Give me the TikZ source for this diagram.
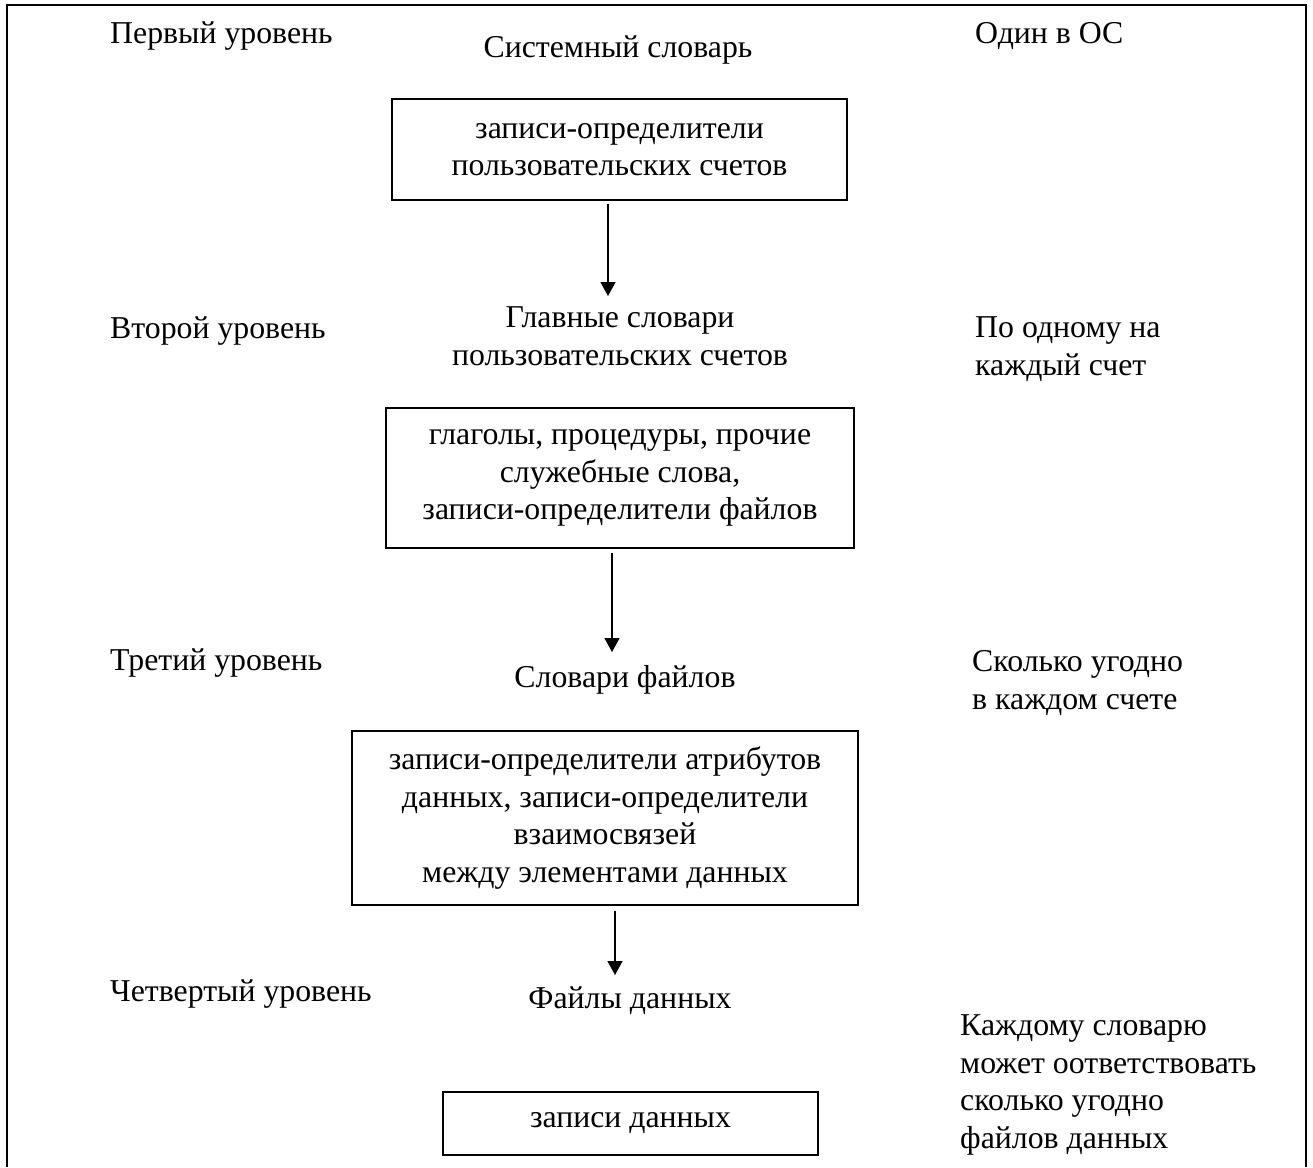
\documentclass[tikz,border=0pt]{standalone}
\usepackage{fontspec}
\setmainfont{Liberation Serif}
\usetikzlibrary{arrows.meta}
\begin{document}
\begin{tikzpicture}[x=1pt,y=-1pt,
  every node/.style={inner sep=0pt, font=\fontsize{31.8}{37.5}\selectfont},
  lbl/.style={anchor=base west, align=left},
  ctr/.style={anchor=base, align=center},
  box/.style={draw, line width=1.5pt, align=center},
  conn/.style={line width=1.3pt, -{Triangle[width=15pt,length=14pt]}}]
\useasboundingbox (0,0) rectangle (1313,1167);
\draw[line width=2pt] (7,1167) -- (7,5) -- (1306,5) -- (1306,1167);

% level 1
\node[lbl] (l1) at (110,43) {Первый уровень};
\node[ctr] (t1) at (618,57) {Системный словарь};
\node[lbl] (r1) at (975,43) {Один в ОС};
\node[box, minimum width=455pt, minimum height=101pt] (b1) at (619.5,149.5) {записи-определители\\пользовательских счетов};

% level 2
\coordinate (e1) at (608,296);
\node[lbl] (l2) at (110,338) {Второй уровень};
\node[ctr] (t2) at (620,365) {Главные словари\\пользовательских счетов};
\node[lbl] (r2) at (975,375) {По одному на\\каждый счет};
\node[box, minimum width=468pt, minimum height=140pt] (b2) at (620,478) {глаголы, процедуры, прочие\\служебные слова,\\записи-определители файлов};

% level 3
\coordinate (e2) at (612,652);
\node[lbl] (l3) at (110,670) {Третий уровень};
\node[ctr] (t3) at (625,687) {Словари файлов};
\node[lbl] (r3) at (972,709) {Сколько угодно\\в каждом счете};
\node[box, minimum width=506pt, minimum height=174pt] (b3) at (605,818) {записи-определители атрибутов\\данных, записи-определители\\взаимосвязей\\между элементами данных};

% level 4
\coordinate (e3) at (615,975);
\node[lbl] (l4) at (110,1001) {Четвертый уровень};
\node[ctr] (t4) at (630,1008) {Файлы данных};
\node[lbl] (r4) at (960,1148) {Каждому словарю\\может оответствовать\\сколько угодно\\файлов данных};
\node[box, minimum width=375pt, minimum height=63pt] (b4) at (630.5,1123.5) {записи данных};

% arrows
\draw[conn] ([xshift=-11.5pt,yshift=-3pt]b1.south) -- (e1);
\draw[conn] ([xshift=-8pt,yshift=-4pt]b2.south) -- (e2);
\draw[conn] ([xshift=10pt,yshift=-5pt]b3.south) -- (e3);
\end{tikzpicture}
\end{document}
